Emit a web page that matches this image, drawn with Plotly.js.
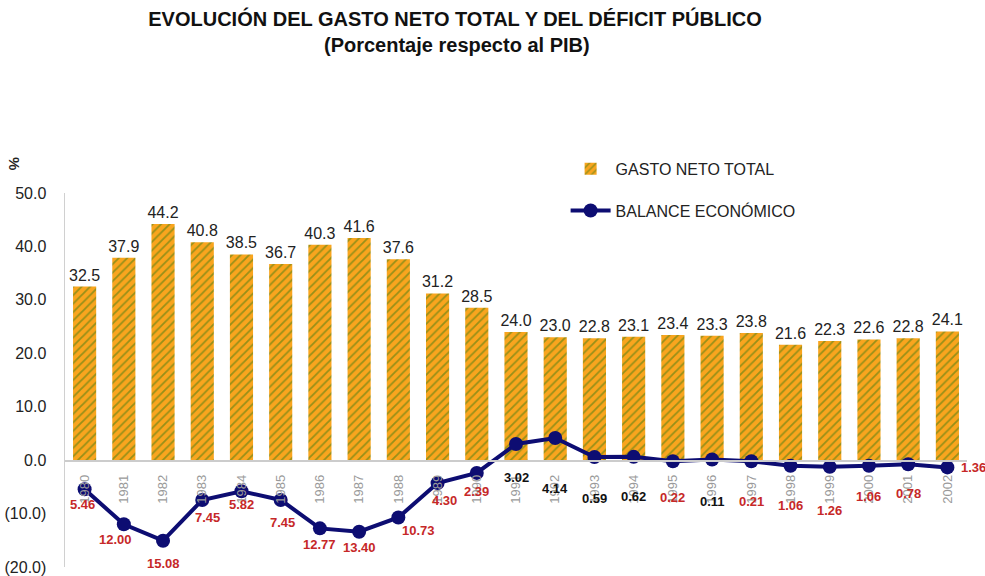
<!DOCTYPE html>
<html>
<head>
<meta charset="utf-8">
<script src="https://cdn.plot.ly/plotly-3.0.1.min.js"></script>
<style>
  html, body { margin: 0; padding: 0; background: #fff; }
  #chart { width: 985px; height: 576px; }
</style>
</head>
<body>
<div id="chart"></div>
<script>
// ---- data ----
const years = ['1980','1981','1982','1983','1984','1985','1986','1987','1988','1989','1990','1991',
               '1992','1993','1994','1995','1996','1997','1998','1999','2000','2001','2002'];
const gastoNeto = [32.5, 37.9, 44.2, 40.8, 38.5, 36.7, 40.3, 41.6, 37.6, 31.2, 28.5, 24.0,
                   23.0, 22.8, 23.1, 23.4, 23.3, 23.8, 21.6, 22.3, 22.6, 22.8, 24.1];
const balance = [-5.46, -12.00, -15.08, -7.45, -5.82, -7.45, -12.77, -13.40, -10.73, -4.30, -2.39, 3.02,
                 4.14, 0.59, 0.62, -0.22, 0.11, -0.21, -1.06, -1.26, -1.06, -0.78, -1.36];
const yTickVals = [50, 40, 30, 20, 10, 0, -10, -20];
const yTickText = ['50.0', '40.0', '30.0', '20.0', '10.0', '0.0', '(10.0)', '(20.0)'];

// ---- label placement (pixel offsets from each point) ----
const labelDy = [15, 15, 23, 18, 13, 23, 16, 16, 13, 17, 19, 33, 50, 42, 40, 36, 42, 40, 40, 44, 31, 29, 0];
const labelDx = [-2, -8, 0, 5, 0, 2, 0, 0, 20, 7, 0, 0, 0, 0, 0, 0, 0, 0, 0, 0, 0, 0, 26];

const narrow = '"Liberation Sans Narrow", "Arial Narrow", "Liberation Sans", Arial, sans-serif';
const sans = '"Liberation Sans", Arial, sans-serif';

// category axis: annotations positioned by category index
const balanceAnnotations = balance.map((v, i) => ({
  x: years.indexOf(years[i]), y: v, xref: 'x', yref: 'y',
  text: Math.abs(v).toFixed(2),
  showarrow: false,
  xanchor: 'center', yanchor: 'middle',
  xshift: labelDx[i], yshift: -labelDy[i],
  font: { family: narrow, size: 13, color: v < 0 ? '#C62828' : '#111111', weight: 'bold' }
}));

const traces = [
  {
    type: 'bar', name: 'GASTO NETO TOTAL', x: years, y: gastoNeto,
    legendgroup: 'g1',
    marker: {
      color: '#F9A51E',
      line: { width: 0 },
      pattern: { shape: '/', fgcolor: '#979018', bgcolor: '#F9A51E', size: 6, solidity: 0.3 }
    },
    text: gastoNeto.map(v => v.toFixed(1)),
    textposition: 'outside',
    constraintext: 'none',
    textfont: { family: sans, size: 16, color: '#222222' },
    cliponaxis: false,
    hoverinfo: 'x+y'
  },
  {
    type: 'scatter', mode: 'lines+markers', name: 'BALANCE ECONÓMICO', x: years, y: balance,
    legendgroup: 'g2',
    line: { color: '#0D0D72', width: 4 },
    marker: { color: '#0D0D72', size: 14 },
    cliponaxis: false
  }
];

const layout = {
  width: 985, height: 576,
  paper_bgcolor: '#ffffff', plot_bgcolor: '#ffffff',
  margin: { l: 65, r: 18, t: 193, b: 9 },
  bargap: 0.41,
  showlegend: true,
  title: {
    text: 'EVOLUCIÓN DEL GASTO NETO TOTAL Y DEL DÉFICIT PÚBLICO',
    font: { family: sans, size: 20, color: '#111111', weight: 'bold' },
    x: 455 / 985, xref: 'container', xanchor: 'center',
    y: 1 - 19 / 576, yref: 'container', yanchor: 'middle'
  },
  legend: {
    x: 0.555, y: 1.11, xanchor: 'left', yanchor: 'top',
    bgcolor: 'rgba(0,0,0,0)',
    font: { family: sans, size: 16, color: '#222222' },
    traceorder: 'grouped', tracegroupgap: 18,
    itemwidth: 40
  },
  xaxis: {
    type: 'category', range: [-0.5, 22.5],
    anchor: 'free', position: 20 / 70,
    showline: true, linecolor: '#cccccc', linewidth: 1.5,
    ticks: '', tickangle: -90, ticklabelstandoff: 8,
    tickfont: { family: sans, size: 13, color: '#9a9a9a' },
    showgrid: false, zeroline: false, fixedrange: true
  },
  yaxis: {
    range: [-20, 50],
    tickvals: yTickVals, ticktext: yTickText,
    showline: true, linecolor: '#d0d0d0', linewidth: 1.5,
    ticks: '', ticklabelstandoff: 14,
    tickfont: { family: sans, size: 16, color: '#222222' },
    showgrid: false, zeroline: false, fixedrange: true
  },
  annotations: [
    {
      text: '(Porcentaje respecto al PIB)', showarrow: false,
      xref: 'paper', yref: 'paper', x: (457 - 65) / 902, y: (567 - 45) / 374,
      xanchor: 'center', yanchor: 'middle',
      font: { family: sans, size: 20, color: '#111111', weight: 'bold' }
    },
    {
      text: '%', showarrow: false, textangle: 90,
      xref: 'paper', yref: 'paper', x: (14 - 65) / 902, y: (567 - 163) / 374,
      xanchor: 'center', yanchor: 'middle',
      font: { family: sans, size: 15, color: '#222222', weight: 'bold' }
    }
  ].concat(balanceAnnotations)
};

Plotly.newPlot('chart', traces, layout, { displayModeBar: false, staticPlot: true });
</script>
</body>
</html>
